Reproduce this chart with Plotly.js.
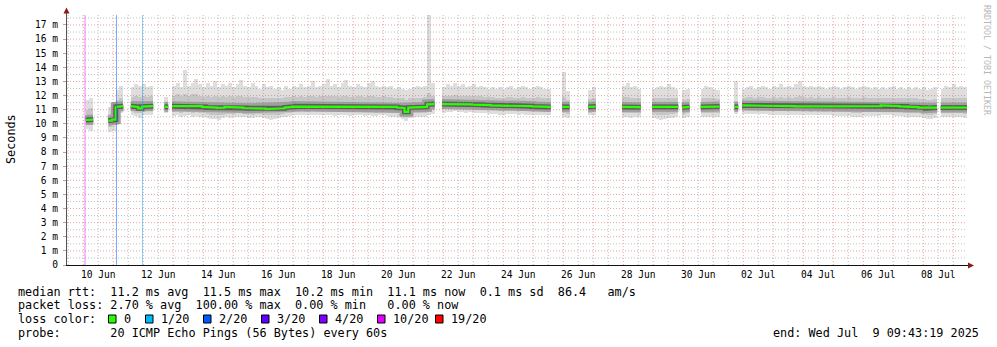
<!DOCTYPE html>
<html><head><meta charset="utf-8">
<script src="https://cdn.plot.ly/plotly-3.0.1.min.js"></script>
<style>html,body{margin:0;padding:0;background:#fff;}#chart{width:997px;height:347px;}</style>
</head><body><div id="chart"></div>
<script>
const _ = null;
// 3-hour bins starting at the left edge of the graph
const startTime = '2025-06-09 11:00:00';
const binHours = 3;
const binCount = 240;

const medianRtt = [
_,_,_,_,_,10.27,10.3,_,_,_,
_,10.22,10.3,11.2,11.25,_,_,11.25,11.2,11.1,
11.22,11.25,11.25,_,_,_,11.2,_,11.25,11.28,
11.25,11.25,11.27,11.25,11.26,11.25,11.2,11.15,11.15,11.15,
11.13,11.15,11.2,11.15,11.15,11.17,11.15,11.12,11.1,11.1,
11.12,11.1,11.08,11.05,11.05,11.05,11.1,11.1,11.15,11.2,
11.22,11.25,11.25,11.22,11.2,11.25,11.22,11.2,11.25,11.25,
11.22,11.2,11.22,11.25,11.23,11.2,11.22,11.25,11.22,11.2,
11.22,11.2,11.2,11.22,11.25,11.2,11.2,11.2,11.15,11.12,
10.85,11.15,11.15,11.15,11.18,11.2,11.38,11.4,_,_,
11.4,11.38,11.4,11.42,11.4,11.38,11.4,11.38,11.36,11.35,
11.35,11.33,11.32,11.3,11.3,11.28,11.25,11.3,11.28,11.27,
11.25,11.27,11.25,11.25,11.23,11.23,11.25,11.22,11.2,_,
_,_,11.2,11.2,_,_,_,_,_,11.2,
11.22,_,_,_,_,_,_,_,11.2,11.2,
11.2,11.2,11.18,_,_,_,11.2,11.15,11.15,11.15,
11.2,11.18,11.2,_,11.15,11.2,_,_,_,11.2,
11.22,11.2,11.2,11.22,_,_,_,_,11.2,_,
11.3,11.3,11.28,11.3,11.28,11.27,11.28,11.25,11.25,11.25,
11.27,11.25,11.25,11.25,11.23,11.25,11.25,11.25,11.22,11.25,
11.25,11.25,11.22,11.25,11.25,11.25,11.23,11.25,11.25,11.25,
11.25,11.25,11.27,11.25,11.25,11.25,11.25,11.3,11.28,11.25,
11.25,11.25,11.23,11.22,11.2,11.2,11.18,11.15,11.15,11.1,
11.12,11.15,_,11.15,11.15,11.15,11.17,11.15,11.15,11.15];

const maxRtt = [
_,_,_,_,_,11.7,11.8,_,_,_,
_,11.2,11.4,12.4,12.7,_,_,12.6,12.8,12.7,
12.8,12.6,12.7,_,_,_,11.9,_,12.7,12.9,
12.6,13.8,12.7,12.9,13.2,12.8,12.6,12.9,12.7,13.0,
12.6,12.8,12.7,12.9,12.6,12.8,13.1,12.7,12.6,12.9,
12.7,12.5,12.8,12.6,12.7,12.5,12.6,12.4,12.7,12.5,
12.7,12.6,12.8,12.6,12.7,13.0,12.6,12.7,12.8,13.2,
12.7,12.8,12.6,12.9,13.1,12.7,12.6,12.8,12.7,12.6,
12.9,13.0,12.7,12.6,12.7,12.6,12.7,12.5,12.6,12.5,
12.4,12.5,12.6,12.7,12.6,12.7,17.8,12.9,_,_,
12.6,12.8,12.7,12.9,12.7,12.8,12.6,12.7,12.8,12.6,
12.7,12.6,12.5,12.6,12.5,12.6,12.5,12.6,12.7,12.5,
12.6,12.7,12.6,12.5,12.6,12.7,12.6,12.5,12.5,_,
_,_,13.7,12.3,_,_,_,_,_,12.4,
12.6,_,_,_,_,_,_,_,12.7,12.9,
12.6,12.7,12.5,_,_,_,12.5,12.6,12.7,12.6,
12.8,12.6,12.5,_,12.4,12.5,_,_,_,12.5,
12.7,12.6,12.5,12.4,_,_,_,_,13.0,_,
12.5,12.6,12.7,12.5,12.6,12.7,12.6,12.5,12.7,12.6,
12.8,12.6,12.7,12.6,12.8,13.0,12.7,12.6,12.7,12.6,
12.7,12.6,12.5,12.6,12.7,12.6,12.5,12.6,12.7,12.6,
12.5,12.6,12.7,12.6,12.5,12.6,12.5,12.6,12.5,12.6,
12.7,12.5,12.6,12.5,12.6,12.5,12.6,12.5,12.6,12.4,
12.5,12.6,_,12.5,12.7,12.6,12.8,12.6,12.7,12.6];

const p90Rtt = [
_,_,_,_,_,11.0,11.1,_,_,_,
_,10.7,10.8,11.7,11.8,_,_,11.9,12.0,11.9,
12.0,11.9,12.0,_,_,_,11.5,_,12.0,12.1,
12.0,12.1,12.0,12.1,12.1,12.0,11.9,12.0,11.9,12.0,
11.9,12.0,11.9,12.0,11.9,12.0,12.0,11.9,11.9,11.9,
11.9,11.8,11.85,11.8,11.85,11.8,11.85,11.8,11.9,11.9,
11.95,11.9,12.0,11.9,11.95,12.0,11.9,11.95,12.0,12.0,
11.95,12.0,11.9,12.0,12.0,11.9,11.9,12.0,11.95,11.9,
12.0,11.95,11.9,11.9,11.95,11.9,11.9,11.85,11.85,11.8,
11.7,11.8,11.85,11.85,11.85,11.9,12.2,12.0,_,_,
11.95,12.0,12.0,12.05,12.0,12.0,11.95,12.0,12.0,11.95,
11.95,11.9,11.9,11.9,11.85,11.85,11.85,11.9,11.9,11.85,
11.85,11.9,11.85,11.85,11.85,11.9,11.85,11.8,11.8,_,
_,_,11.9,11.7,_,_,_,_,_,11.75,
11.8,_,_,_,_,_,_,_,11.9,11.9,
11.85,11.85,11.8,_,_,_,11.8,11.8,11.85,11.8,
11.85,11.8,11.8,_,11.7,11.75,_,_,_,11.8,
11.85,11.85,11.8,11.75,_,_,_,_,11.6,_,
11.85,11.9,11.9,11.85,11.9,11.9,11.85,11.85,11.9,11.85,
11.9,11.85,11.9,11.85,11.9,11.95,11.9,11.85,11.9,11.85,
11.9,11.85,11.85,11.85,11.9,11.85,11.85,11.85,11.9,11.85,
11.8,11.85,11.9,11.85,11.8,11.85,11.8,11.85,11.8,11.85,
11.85,11.8,11.8,11.8,11.8,11.8,11.8,11.75,11.75,11.7,
11.7,11.75,_,11.8,11.85,11.8,11.85,11.8,11.8,11.8];

const p10Rtt = [
_,_,_,_,_,9.95,9.9,_,_,_,
_,9.8,9.9,10.95,11.0,_,_,10.9,10.8,10.75,
10.85,10.9,10.9,_,_,_,10.95,_,10.85,10.85,
10.8,10.85,10.85,10.8,10.85,10.8,10.75,10.7,10.65,10.65,
10.6,10.65,10.7,10.7,10.7,10.75,10.75,10.7,10.7,10.65,
10.7,10.7,10.65,10.6,10.6,10.6,10.65,10.7,10.75,10.8,
10.85,10.85,10.9,10.85,10.85,10.9,10.85,10.85,10.9,10.85,
10.85,10.85,10.85,10.9,10.85,10.85,10.85,10.9,10.85,10.85,
10.85,10.85,10.8,10.85,10.85,10.85,10.8,10.8,10.75,10.7,
10.5,10.7,10.75,10.75,10.75,10.8,10.9,10.95,_,_,
11.05,11.05,11.1,11.1,11.1,11.05,11.05,11.1,11.05,11.0,
11.0,11.0,10.95,10.95,10.95,10.9,10.9,10.95,10.95,10.95,
10.9,10.95,10.9,10.9,10.9,10.9,10.9,10.85,10.85,_,
_,_,10.8,10.7,_,_,_,_,_,10.8,
10.85,_,_,_,_,_,_,_,10.8,10.75,
10.75,10.75,10.75,_,_,_,10.7,10.65,10.6,10.65,
10.7,10.7,10.75,_,10.7,10.75,_,_,_,10.75,
10.8,10.75,10.75,10.8,_,_,_,_,10.9,_,
10.95,10.95,10.95,10.95,10.95,10.95,10.95,10.9,10.9,10.9,
10.9,10.9,10.9,10.9,10.9,10.9,10.9,10.9,10.85,10.9,
10.9,10.85,10.85,10.9,10.85,10.85,10.85,10.85,10.85,10.8,
10.8,10.8,10.85,10.85,10.85,10.85,10.85,10.9,10.9,10.9,
10.85,10.85,10.85,10.8,10.8,10.8,10.75,10.75,10.7,10.65,
10.65,10.7,_,10.75,10.75,10.75,10.75,10.75,10.75,10.7];

const minRtt = [
_,_,_,_,_,9.6,9.5,_,_,_,
_,9.4,9.5,10.7,10.8,_,_,10.6,10.55,10.4,
10.6,10.65,10.6,_,_,_,10.8,_,10.55,10.6,
10.5,10.55,10.6,10.5,10.55,10.5,10.45,10.4,10.35,10.35,
10.3,10.4,10.45,10.4,10.45,10.5,10.5,10.45,10.4,10.4,
10.45,10.45,10.4,10.35,10.3,10.35,10.4,10.45,10.5,10.55,
10.6,10.6,10.65,10.6,10.6,10.65,10.6,10.6,10.6,10.6,
10.6,10.55,10.6,10.6,10.6,10.55,10.6,10.6,10.6,10.55,
10.6,10.55,10.55,10.6,10.6,10.55,10.5,10.5,10.45,10.35,
10.2,10.4,10.45,10.45,10.5,10.5,10.6,10.7,_,_,
10.8,10.85,10.85,10.9,10.85,10.85,10.8,10.85,10.8,10.8,
10.75,10.75,10.7,10.7,10.7,10.65,10.65,10.7,10.7,10.7,
10.65,10.7,10.65,10.65,10.65,10.6,10.65,10.6,10.6,_,
_,_,10.5,10.4,_,_,_,_,_,10.6,
10.6,_,_,_,_,_,_,_,10.5,10.45,
10.4,10.45,10.45,_,_,_,10.4,10.35,10.3,10.35,
10.4,10.4,10.45,_,10.4,10.45,_,_,_,10.45,
10.5,10.45,10.45,10.5,_,_,_,_,10.7,_,
10.7,10.7,10.7,10.7,10.7,10.7,10.7,10.65,10.65,10.65,
10.65,10.65,10.65,10.65,10.6,10.65,10.65,10.65,10.6,10.65,
10.65,10.6,10.6,10.6,10.55,10.55,10.55,10.55,10.55,10.5,
10.5,10.5,10.55,10.55,10.55,10.55,10.55,10.6,10.6,10.6,
10.55,10.55,10.55,10.5,10.5,10.5,10.45,10.45,10.4,10.35,
10.35,10.4,_,10.45,10.45,10.45,10.45,10.45,10.45,10.4];

const xTickDates = ['2025-06-10 12:00','2025-06-12 12:00','2025-06-14 12:00','2025-06-16 12:00',
  '2025-06-18 12:00','2025-06-20 12:00','2025-06-22 12:00','2025-06-24 12:00','2025-06-26 12:00',
  '2025-06-28 12:00','2025-06-30 12:00','2025-07-02 12:00','2025-07-04 12:00','2025-07-06 12:00',
  '2025-07-08 12:00'];
const xTickLabels = ['10 Jun','12 Jun','14 Jun','16 Jun','18 Jun','20 Jun','22 Jun','24 Jun',
  '26 Jun','28 Jun','30 Jun','02 Jul','04 Jul','06 Jul','08 Jul'];
const yTickValues = [0,1,2,3,4,5,6,7,8,9,10,11,12,13,14,15,16,17];
const yTickLabels = ['0','1 m','2 m','3 m','4 m','5 m','6 m','7 m','8 m','9 m','10 m','11 m',
  '12 m','13 m','14 m','15 m','16 m','17 m'];

const lossLabels = ['0','1/20','2/20','3/20','4/20','10/20','19/20'];
const lossColors = ['#26ff00','#00b8ff','#0059ff','#5e00ff','#7e00ff','#dd00ff','#ff0000'];
const lossEventTimes = ['2025-06-10 01:24','2025-06-11 02:36','2025-06-11 23:24'];
const lossEventLevels = ['10/20','2/20','1/20'];

const statLines = [
  'median rtt:  11.2 ms avg  11.5 ms max  10.2 ms min  11.1 ms now  0.1 ms sd  86.4   am/s',
  'packet loss: 2.70 % avg  100.00 % max  0.00 % min   0.00 % now',
  'loss color:',
  'probe:       20 ICMP Echo Pings (56 Bytes) every 60s'];
const endText = 'end: Wed Jul  9 09:43:19 2025';
const yTitle = 'Seconds';
const watermark = 'RRDTOOL / TOBI OETIKER';

// ---------- drawing ----------
const toMs = s => Date.parse(s.replace(' ', 'T') + (s.length > 16 ? 'Z' : ':00Z'));
const T0 = toMs(startTime);
const STEP = binHours * 3600e3;
const T1 = T0 + binCount * STEP;
const binStart = i => T0 + i * STEP;

const L = 67, R = 967, T = 15, B = 265, W = R - L, H = B - T;
const X = px => (px - L) / W;
const Y = py => (B - py) / H;
const nb = s => s.replace(/ /g, '\u00a0');
const MONO = 'DejaVu Sans Mono';

function bandTrace(lo, hi, color) {
  const x = [], base = [], y = [];
  for (let i = 0; i < binCount; i++) {
    if (lo[i] == null || hi[i] == null) continue;
    x.push(binStart(i) + STEP / 2); base.push(lo[i]); y.push(hi[i] - lo[i]);
  }
  return {type: 'bar', x, y, base, width: STEP * 1.02, marker: {color, line: {width: 0}},
          hoverinfo: 'skip', showlegend: false};
}
function stepTrace(vals, color, width) {
  const x = [], y = [];
  for (let i = 0; i < binCount; i++) {
    if (vals[i] == null) { if (y.length && y[y.length - 1] != null) { x.push(binStart(i)); y.push(null); } continue; }
    x.push(binStart(i), binStart(i + 1)); y.push(vals[i], vals[i]);
  }
  return {type: 'scatter', mode: 'lines', x, y, line: {color, width, shape: 'linear'},
          connectgaps: false, hoverinfo: 'skip', showlegend: false};
}

const traces = [
  bandTrace(minRtt, maxRtt, '#dedede'),
  bandTrace(p10Rtt, p90Rtt, '#c6c6c6'),
  stepTrace(medianRtt, '#a0a0a0', 10),
  stepTrace(medianRtt, '#5c5c5c', 5),
  stepTrace(medianRtt, lossColors[0], 2.2)
];

const shapes = [];
// vertical grid: midnight (major) and noon (minor)
for (let t = toMs('2025-06-09 12:00'); t <= T1; t += 12 * 3600e3) {
  if (t < T0) continue;
  const major = ((t / 3600e3) % 24) === 0;
  shapes.push({type: 'line', xref: 'x', yref: 'paper', x0: t, x1: t, y0: 0, y1: 1, layer: 'above',
    line: {color: major ? 'rgba(215,90,90,0.55)' : 'rgba(140,140,140,0.55)', width: 1, dash: '1px,2px'}});
}
// horizontal grid
for (let v = 0.5; v < 17.7; v += 0.5) {
  const major = Math.abs(v - Math.round(v)) < 1e-6;
  shapes.push({type: 'line', xref: 'paper', yref: 'y', x0: 0, x1: 1, y0: v, y1: v, layer: 'above',
    line: {color: major ? 'rgba(215,90,90,0.55)' : 'rgba(140,140,140,0.55)', width: 1, dash: '1px,2px'}});
}
// loss events
lossEventTimes.forEach((t, k) => {
  const c = lossColors[lossLabels.indexOf(lossEventLevels[k])];
  shapes.push({type: 'line', xref: 'x', yref: 'paper', x0: t, x1: t, y0: 0, y1: 1, layer: 'above',
    opacity: 0.5, line: {color: c, width: 1}});
});
// axes with arrows
shapes.push({type: 'line', xref: 'paper', yref: 'paper', x0: X(66.5), x1: X(66.5), y0: Y(265.5), y1: Y(12),
  line: {color: '#555', width: 1}, layer: 'above'});
shapes.push({type: 'line', xref: 'paper', yref: 'paper', x0: X(66), x1: X(969), y0: Y(265.5), y1: Y(265.5),
  line: {color: '#111', width: 1}, layer: 'above'});
shapes.push({type: 'path', xref: 'paper', yref: 'paper', layer: 'above', line: {width: 0}, fillcolor: '#8b1a1a',
  path: `M ${X(63.5)} ${Y(13.5)} L ${X(69.5)} ${Y(13.5)} L ${X(66.5)} ${Y(7.5)} Z`});
shapes.push({type: 'path', xref: 'paper', yref: 'paper', layer: 'above', line: {width: 0}, fillcolor: '#8b1a1a',
  path: `M ${X(968)} ${Y(262.5)} L ${X(968)} ${Y(268.5)} L ${X(974)} ${Y(265.5)} Z`});

// legend swatches
const annotations = [];
lossLabels.forEach((lab, k) => {
  const bx = k === 0 ? 108.5 : 145.5 + 58 * (k - 1);
  shapes.push({type: 'rect', xref: 'paper', yref: 'paper', x0: X(bx), x1: X(bx + 7.5), y0: Y(315), y1: Y(323),
    fillcolor: lossColors[k], line: {color: '#000', width: 1}});
  annotations.push({xref: 'paper', yref: 'paper', x: X(bx + 13.5), y: Y(319), xanchor: 'left', yanchor: 'middle',
    showarrow: false, text: nb(lab), font: {family: MONO, size: 11.8, color: '#000'}});
});

const lineY = [291.5, 305, 319, 332.5];
statLines.forEach((s, k) => annotations.push({xref: 'paper', yref: 'paper', x: X(15.5), y: Y(lineY[k]),
  xanchor: 'left', yanchor: 'middle', showarrow: false, text: nb(s), font: {family: MONO, size: 11.8, color: '#000'}}));
annotations.push({xref: 'paper', yref: 'paper', x: X(981), y: Y(lineY[3]), xanchor: 'right', yanchor: 'middle',
  showarrow: false, text: nb(endText), font: {family: MONO, size: 11.8, color: '#000'}});
annotations.push({xref: 'paper', yref: 'paper', x: X(11), y: Y(139), xanchor: 'center', yanchor: 'middle',
  showarrow: false, textangle: -90, text: yTitle, font: {family: MONO, size: 11.8, color: '#000'}});
annotations.push({xref: 'paper', yref: 'paper', x: X(987), y: Y(60), xanchor: 'center', yanchor: 'middle',
  showarrow: false, textangle: 90, text: nb(watermark), font: {family: MONO, size: 8.3, color: '#b8b8b8'}});

const layout = {
  width: 997, height: 347,
  margin: {l: L, r: 997 - R, t: T, b: 347 - B, pad: 0},
  paper_bgcolor: '#fff', plot_bgcolor: '#fff',
  showlegend: false, barmode: 'overlay', bargap: 0, hovermode: false,
  xaxis: {type: 'date', range: [T0, T1], tickmode: 'array', tickvals: xTickDates, ticktext: xTickLabels,
    showgrid: false, zeroline: false, showline: false, ticks: '', ticklabelstandoff: 2,
    tickfont: {family: MONO, size: 9.6, color: '#000'}, fixedrange: true},
  yaxis: {range: [0, H / 14.118], tickmode: 'array', tickvals: yTickValues, ticktext: yTickLabels,
    showgrid: false, zeroline: false, showline: false, ticks: 'outside', ticklen: 3, tickcolor: '#aaa',
    ticklabelstandoff: 3, tickfont: {family: MONO, size: 9.6, color: '#000'}, fixedrange: true},
  shapes, annotations
};
Plotly.newPlot('chart', traces, layout, {staticPlot: true, displayModeBar: false});
</script></body></html>
